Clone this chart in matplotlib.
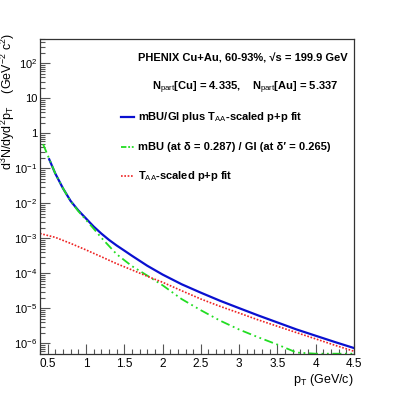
import matplotlib
matplotlib.use('Agg')
import matplotlib.pyplot as plt
import numpy as np
from matplotlib.ticker import FixedLocator, FixedFormatter, MultipleLocator, LogLocator, NullFormatter

# ROOT-like look
plt.rcParams['font.family'] = ['Liberation Sans', 'DejaVu Sans']
plt.rcParams['mathtext.fontset'] = 'custom'
plt.rcParams['mathtext.rm'] = 'Liberation Sans'
plt.rcParams['mathtext.it'] = 'Liberation Sans:italic'
plt.rcParams['mathtext.bf'] = 'Liberation Sans:bold'

# mBU/GI plus TAA-scaled p+p fit (blue)
pt_blue = [0.52, 0.6, 0.7, 0.8, 0.9, 1.0, 1.1, 1.2, 1.3, 1.4, 1.5, 1.6, 1.8, 2.0, 2.25, 2.5,
           2.75, 3.0, 3.25, 3.5, 3.75, 4.0, 4.25, 4.5]
y_blue = [1.82e-1, 7.1e-2, 2.69e-2, 1.17e-2, 6.3e-3, 3.72e-3, 2.19e-3, 1.38e-3, 9.1e-4,
          6.3e-4, 4.5e-4, 3.2e-4, 1.66e-4, 9.3e-5, 4.9e-5, 2.82e-5, 1.66e-5, 1.02e-5,
          6.3e-6, 3.98e-6, 2.51e-6, 1.66e-6, 1.10e-6, 7.4e-7]

# mBU / GI (green)
pt_green = [0.44, 0.5, 0.6, 0.7, 0.8, 0.9, 1.0, 1.1, 1.2, 1.4, 1.6, 1.8, 2.0, 2.25, 2.5,
            2.75, 3.0, 3.25, 3.5, 3.75, 4.0, 4.25, 4.5]
y_green = [4.9e-1, 2.4e-1, 7.1e-2, 2.69e-2, 1.15e-2, 6.0e-3, 3.4e-3, 1.9e-3, 1.05e-3,
           3.55e-4, 1.62e-4, 8.7e-5, 4.6e-5, 1.85e-5, 8.9e-6, 4.5e-6, 2.5e-6, 1.5e-6,
           9.3e-7, 5.5e-7, 3.2e-7, 2.0e-7, 1.2e-7]

# TAA-scaled p+p fit (red)
pt_red = [0.4, 0.6, 0.8, 1.0, 1.2, 1.4, 1.6, 1.8, 2.0, 2.25, 2.5, 2.75, 3.0, 3.25, 3.5,
          3.75, 4.0, 4.25, 4.5]
y_red = [1.38e-3, 1.07e-3, 7.2e-4, 4.7e-4, 3.0e-4, 1.9e-4, 1.26e-4, 8.3e-5, 5.6e-5,
         3.2e-5, 1.86e-5, 1.15e-5, 7.4e-6, 4.7e-6, 3.1e-6, 2.04e-6, 1.35e-6, 8.9e-7, 6.0e-7]

xlo, xhi = 0.4, 4.5
ylo, yhi = 5e-7, 500

fig = plt.figure(figsize=(3.94, 3.94), dpi=100)
ax = fig.add_axes([0.1015, 0.1015, 0.797, 0.800])

ax.plot(pt_blue, y_blue, color='#0a10d0', lw=1.6)
# ROOT draws clipped values along the frame
ax.plot(pt_green, np.clip(y_green, ylo * 1.02, None), color='#22dd22', lw=1.3,
        linestyle=(0, (5, 2, 1, 2, 1, 2)))
ax.plot(pt_red, y_red, color='#ee2222', lw=1.2, linestyle=(0, (1, 1)))

ax.set_yscale('log')
ax.set_xlim(xlo, xhi)
ax.set_ylim(ylo, yhi)

# ticks
xt = [0.5, 1, 1.5, 2, 2.5, 3, 3.5, 4, 4.5]
ax.xaxis.set_major_locator(FixedLocator(xt))
ax.xaxis.set_major_formatter(FixedFormatter(['0.5', '1', '1.5', '2', '2.5', '3', '3.5', '4', '4.5']))
ax.xaxis.set_minor_locator(MultipleLocator(0.1))
yt = [1e-6, 1e-5, 1e-4, 1e-3, 1e-2, 1e-1, 1, 10, 100]
ylab = [r'$10^{-6}$', r'$10^{-5}$', r'$10^{-4}$', r'$10^{-3}$', r'$10^{-2}$', r'$10^{-1}$',
        '1', '10', r'$10^{2}$']
ax.yaxis.set_major_locator(FixedLocator(yt))
ax.yaxis.set_major_formatter(FixedFormatter(ylab))
ax.yaxis.set_minor_locator(LogLocator(base=10, subs=np.arange(2, 10), numticks=20))
ax.yaxis.set_minor_formatter(NullFormatter())

ax.tick_params(which='both', direction='in', top=False, right=False, labelsize=8.5,
               color='#555555', width=0.8)
ax.tick_params(which='major', length=7, pad=3)
ax.tick_params(which='minor', length=3.5)
ax.tick_params(axis='y', labelsize=8, pad=2)
for s in ax.spines.values():
    s.set_linewidth(0.9)
    s.set_color('#333333')

# axis titles
fig.text(8 / 394, 1 - 33 / 394, r'd$^{3}$N/dyd$^{2}$p$_{\rm T}$    (GeV$^{-2}$ c$^{2}$)',
         rotation=90, ha='center', va='top', fontsize=9)
fig.text(354 / 394, 1 - 380 / 394, r'p$_{\rm T}$ (GeV/c)', ha='right', va='center', fontsize=9)

# header texts
fig.text(348 / 394, 1 - 58 / 394, 'PHENIX Cu+Au, 60-93%, \u221as = 199.9 GeV',
         ha='right', va='center', fontsize=8, fontweight='bold')
fig.text(338 / 394, 1 - 88 / 394,
         r'N$_{\rm part}$[Cu] = 4.335,    N$_{\rm part}$[Au] = 5.337',
         ha='right', va='center', fontsize=8, fontweight='bold')

# legend entries
entries = [
    (117, dict(color='#0a10d0', lw=1.6, linestyle='-'),
     r'mBU/GI plus T$_{\rm AA}$-scaled p+p fit'),
    (147, dict(color='#22dd22', lw=1.3, linestyle=(0, (3, 1, 1, 1, 1, 1))),
     'mBU (at \u03b4 = 0.287) / GI (at \u03b4\u2032 = 0.265)'),
    (176, dict(color='#ee2222', lw=1.2, linestyle=(0, (1, 1))),
     r'T$_{\rm AA}$-scaled p+p fit'),
]
for ypix, style, label in entries:
    yf = 1 - ypix / 394
    fig.add_artist(plt.Line2D([121 / 394, 134 / 394], [yf, yf], transform=fig.transFigure, **style))
    fig.text(138 / 394, yf, label, ha='left', va='center', fontsize=8, fontweight='bold')

fig.savefig('out.png', dpi=100)
